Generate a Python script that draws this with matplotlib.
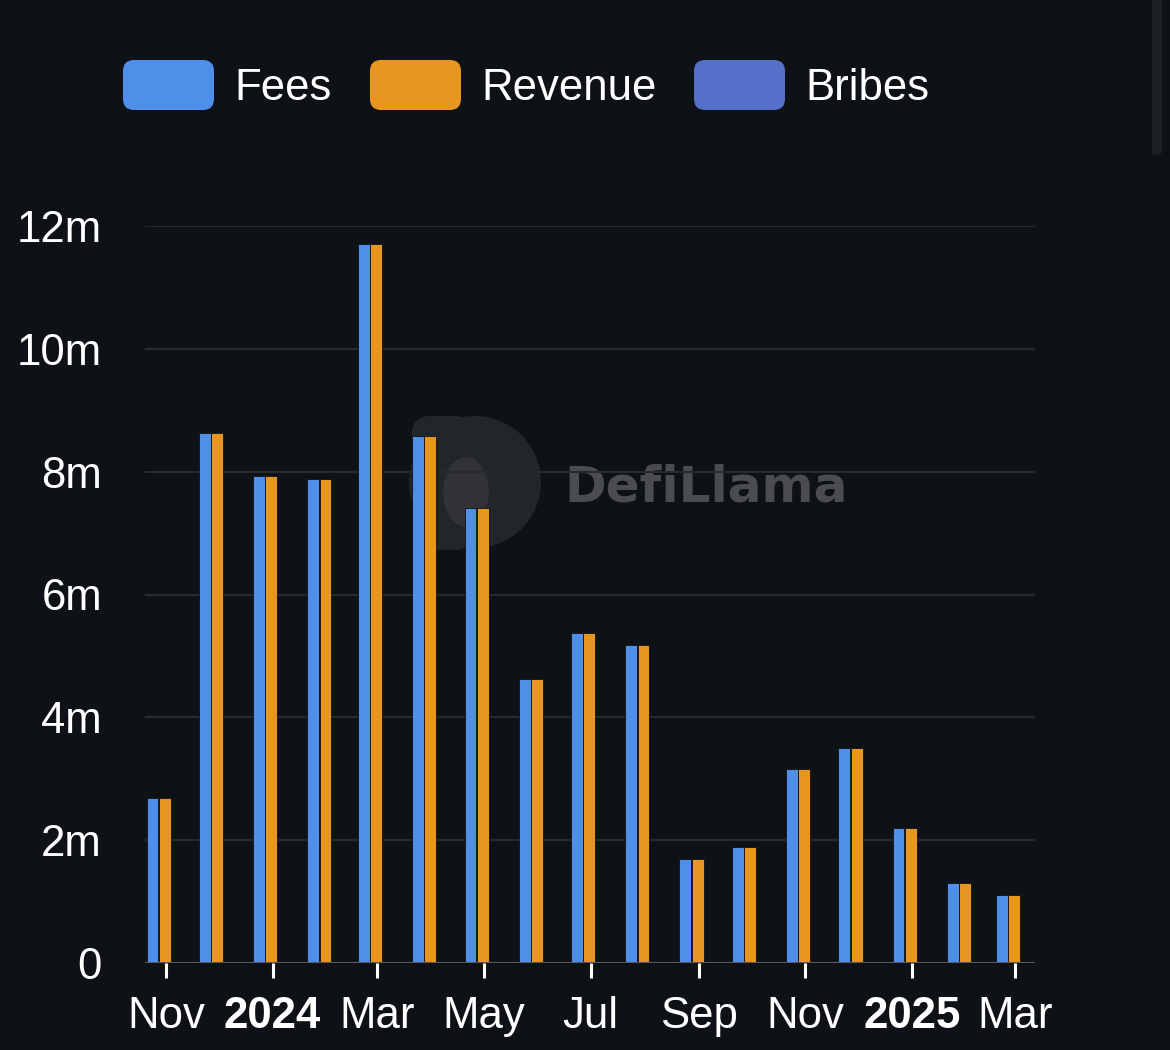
import datetime as dt
import matplotlib
matplotlib.use("Agg")
import matplotlib.pyplot as plt
import matplotlib.dates as mdates
from matplotlib.patches import FancyBboxPatch, Circle, Ellipse

plt.rcParams['font.family'] = ['Liberation Sans', 'DejaVu Sans']

# monthly data, in millions
months = ["2023-11", "2023-12", "2024-01", "2024-02", "2024-03", "2024-04",
          "2024-05", "2024-06", "2024-07", "2024-08", "2024-09", "2024-10",
          "2024-11", "2024-12", "2025-01", "2025-02", "2025-03"]
fees = [2.69, 8.63, 7.93, 7.88, 11.71, 8.58, 7.41, 4.62, 5.37, 5.18,
        1.69, 1.89, 3.16, 3.50, 2.20, 1.30, 1.11]
revenue = [2.69, 8.63, 7.93, 7.88, 11.71, 8.58, 7.41, 4.62, 5.37, 5.18,
           1.69, 1.89, 3.16, 3.50, 2.20, 1.30, 1.11]

tick_dates = ["2023-11", "2024-01", "2024-03", "2024-05", "2024-07",
              "2024-09", "2024-11", "2025-01", "2025-03"]
tick_labels = ["Nov", "2024", "Mar", "May", "Jul", "Sep", "Nov", "2025", "Mar"]
y_ticks = [0, 2, 4, 6, 8, 10, 12]
y_labels = ["0", "2m", "4m", "6m", "8m", "10m", "12m"]

legend_names = ["Fees", "Revenue", "Bribes"]
colors = ["#4f8fea", "#e8961f", "#5470c8"]

bg = "#0e1115"
fs = 31.5

def to_date(s):
    return dt.datetime.strptime(s + "-01", "%Y-%m-%d")

x = [mdates.date2num(to_date(m)) for m in months]
xt = [mdates.date2num(to_date(m)) for m in tick_dates]

fig = plt.figure(figsize=(11.7, 10.5), dpi=100, facecolor=bg)
ax = fig.add_axes([145 / 1170, 1 - 963 / 1050, 890 / 1170, 737 / 1050])
ax.set_facecolor(bg)

# watermark (behind the bars)
wm = fig.add_axes([0, 0, 1, 1], zorder=0)
wm.set_xlim(0, 1170)
wm.set_ylim(1050, 0)
wm.axis("off")
wm.add_patch(Circle((475, 482), 66, color="#222529", lw=0))
wm.add_patch(FancyBboxPatch((412, 416), 60, 134, boxstyle="round,pad=0,rounding_size=18",
                            color="#222529", lw=0))
wm.add_patch(Ellipse((466, 492), 46, 70, color="#303236", lw=0))
wm.text(564, 488, "DefiLlama", fontsize=36, fontweight="bold", color="#4a4c50",
        va="center", ha="left", family=["DejaVu Sans"])
# faint scrollbar on the right
wm.add_patch(FancyBboxPatch((1152, -10), 10, 165, boxstyle="round,pad=0,rounding_size=4",
                            color="#1b1e22", lw=0))
ax.set_zorder(1)
ax.patch.set_alpha(0)

w = 6.8
ax.bar([v - 7.7 for v in x], fees, width=w, color=colors[0], edgecolor=bg, linewidth=0.6, zorder=3)
ax.bar([v - 0.7 for v in x], revenue, width=w, color=colors[1], edgecolor=bg, linewidth=0.6, zorder=3)

ax.set_xlim(mdates.date2num(dt.datetime(2023, 10, 20)), mdates.date2num(dt.datetime(2025, 3, 12, 10)))
ax.set_ylim(0, 12)

for yv in y_ticks[1:]:
    ax.axhline(yv, color="#272a2f", lw=1.5, zorder=1)
ax.axhline(0, color="#585b61", lw=2.2, zorder=4)

for s in ax.spines.values():
    s.set_visible(False)

ax.set_yticks(y_ticks)
ax.set_yticklabels(y_labels)
ax.tick_params(axis="y", length=0, pad=31, labelsize=fs, labelcolor="white")

ax.set_xticks(xt)
ax.set_xticklabels(tick_labels)
ax.tick_params(axis="x", length=11, width=2.2, color="white", pad=13,
               labelsize=fs, labelcolor="white", direction="out")
for lab in ax.get_xticklabels():
    if lab.get_text() in ("2024", "2025"):
        lab.set_fontweight("bold")

# legend with rounded swatches
leg_x = [123, 370, 694]
for name, c, lx in zip(legend_names, colors, leg_x):
    wm.add_patch(FancyBboxPatch((lx, 60), 91, 50, boxstyle="round,pad=0,rounding_size=11",
                                color=c, lw=0))
    wm.text(lx + 111, 88, name, fontsize=fs, color="white", va="center", ha="left")

plt.savefig("out.png", dpi=100, facecolor=bg)
